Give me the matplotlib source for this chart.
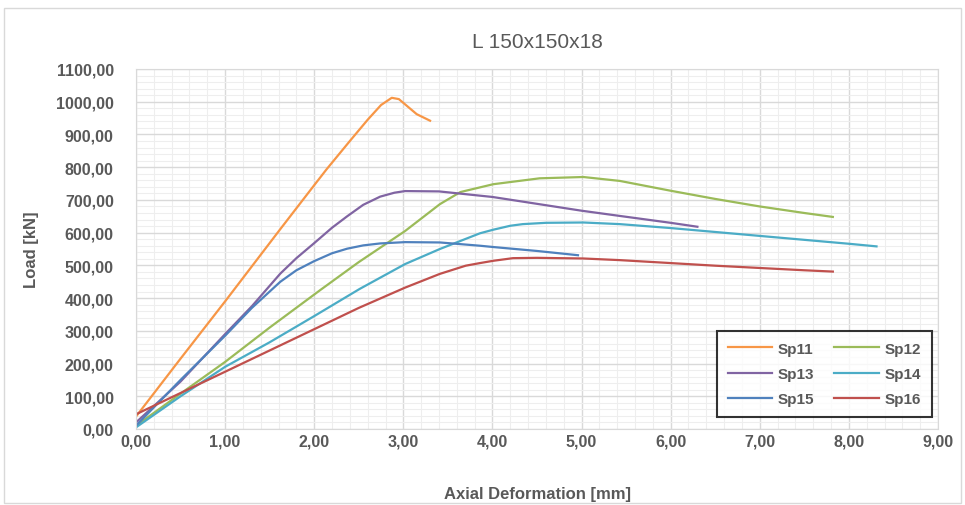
import matplotlib
matplotlib.use("Agg")
import matplotlib.pyplot as plt
from matplotlib.ticker import MultipleLocator, FuncFormatter
from matplotlib.patches import Rectangle

plt.rcParams['font.family'] = ['Liberation Sans', 'DejaVu Sans']

title = "L 150x150x18"
xlabel = "Axial Deformation [mm]"
ylabel = "Load [kN]"

sp11_x = [0.0, 0.5, 1.0, 1.62, 2.0, 2.14, 2.4, 2.6, 2.75, 2.87, 2.95, 3.05, 3.15, 3.3]
sp11_y = [38, 215, 390, 611, 745, 794, 880, 945, 990, 1012, 1008, 985, 962, 942]

sp12_x = [0.0, 0.5, 1.0, 1.5, 2.07, 2.5, 3.02, 3.41, 3.64, 4.01, 4.53, 5.02, 5.43, 6.0, 6.5, 7.0, 7.5, 7.82]
sp12_y = [10, 108, 205, 310, 425, 510, 605, 687, 724, 748, 766, 770, 758, 728, 703, 680, 660, 648]

sp13_x = [0.0, 0.5, 1.0, 1.3, 1.62, 1.8, 2.0, 2.2, 2.37, 2.55, 2.74, 2.9, 3.02, 3.4, 4.0, 4.5, 5.0, 5.43, 6.0, 6.3]
sp13_y = [20, 145, 290, 375, 475, 522, 568, 615, 650, 685, 710, 722, 727, 726, 709, 688, 667, 651, 630, 618]

sp14_x = [0.0, 0.5, 1.0, 1.5, 2.0, 2.51, 3.02, 3.41, 3.86, 4.01, 4.2, 4.34, 4.6, 5.02, 5.43, 6.0, 6.5, 7.0, 7.5, 8.0, 8.31]
sp14_y = [5, 100, 190, 265, 345, 428, 504, 550, 598, 609, 621, 626, 630, 631, 626, 614, 602, 590, 578, 566, 558]

sp15_x = [0.0, 0.5, 1.0, 1.3, 1.62, 1.8, 2.0, 2.2, 2.37, 2.55, 2.74, 3.02, 3.41, 3.86, 4.01, 4.5, 4.96]
sp15_y = [10, 150, 285, 370, 450, 485, 513, 537, 551, 561, 567, 571, 570, 560, 556, 544, 531]

sp16_x = [0.0, 0.5, 1.0, 1.5, 2.0, 2.5, 3.02, 3.41, 3.7, 3.86, 4.01, 4.23, 4.5, 5.02, 5.43, 6.0, 6.5, 7.0, 7.5, 7.82]
sp16_y = [45, 110, 175, 240, 305, 370, 432, 474, 499, 507, 514, 522, 523, 521, 516, 507, 499, 492, 485, 481]

series = [
    ("Sp11", sp11_x, sp11_y, "#F79646"),
    ("Sp12", sp12_x, sp12_y, "#9BBB59"),
    ("Sp13", sp13_x, sp13_y, "#8064A2"),
    ("Sp14", sp14_x, sp14_y, "#4BACC6"),
    ("Sp15", sp15_x, sp15_y, "#4F81BD"),
    ("Sp16", sp16_x, sp16_y, "#C0504D"),
]

fig = plt.figure(figsize=(9.65, 5.06), dpi=100)
fig.patches.append(Rectangle((0.004, 0.004), 0.992, 0.978, transform=fig.transFigure,
                             fill=False, edgecolor="#d9d9d9", linewidth=1.0))
ax = fig.add_axes([136/965, 76/506, 802/965, 360/506])

handles = {}
for name, xs, ys, c in series:
    h, = ax.plot(xs, ys, color=c, linewidth=1.6, label=name)
    handles[name] = h

ax.set_xlim(0, 9)
ax.set_ylim(0, 1100)
ax.xaxis.set_major_locator(MultipleLocator(1))
ax.xaxis.set_minor_locator(MultipleLocator(0.2))
ax.yaxis.set_major_locator(MultipleLocator(100))
ax.yaxis.set_minor_locator(MultipleLocator(20))
fmt = FuncFormatter(lambda v, p: f"{v:.2f}".replace(".", ","))
ax.xaxis.set_major_formatter(fmt)
ax.yaxis.set_major_formatter(fmt)
ax.grid(which="major", color="#d9d9d9", linewidth=1.0)
ax.grid(which="minor", color="#eeeeee", linewidth=0.8)
ax.set_axisbelow(True)
ax.tick_params(which="both", length=0)
ax.tick_params(axis="x", pad=3)
ax.tick_params(axis="y", pad=16)
for lab in ax.get_xticklabels() + ax.get_yticklabels():
    lab.set_fontweight("bold")
    lab.set_color("#595959")
    lab.set_fontsize(11.5)
for s in ax.spines.values():
    s.set_color("#d9d9d9")

ax.set_title(title, fontsize=15, color="#595959", pad=16)
ax.set_xlabel(xlabel, fontsize=12, fontweight="bold", color="#595959", labelpad=27)
ax.set_ylabel(ylabel, fontsize=12, fontweight="bold", color="#595959", labelpad=12)

order = ["Sp11", "Sp13", "Sp15", "Sp12", "Sp14", "Sp16"]
leg = ax.legend([handles[n] for n in order], order, ncol=2, loc="lower right",
                bbox_to_anchor=(0.9925, 0.033), borderaxespad=0.0,
                frameon=True, fancybox=False, fontsize=11, handlelength=2.9,
                handletextpad=0.4, columnspacing=1.3, borderpad=0.7, labelspacing=0.75)
leg.get_frame().set_edgecolor("black")
leg.get_frame().set_linewidth(1.5)
for t in leg.get_texts():
    t.set_fontweight("bold")
    t.set_color("#595959")

fig.savefig("out.png", dpi=100)
